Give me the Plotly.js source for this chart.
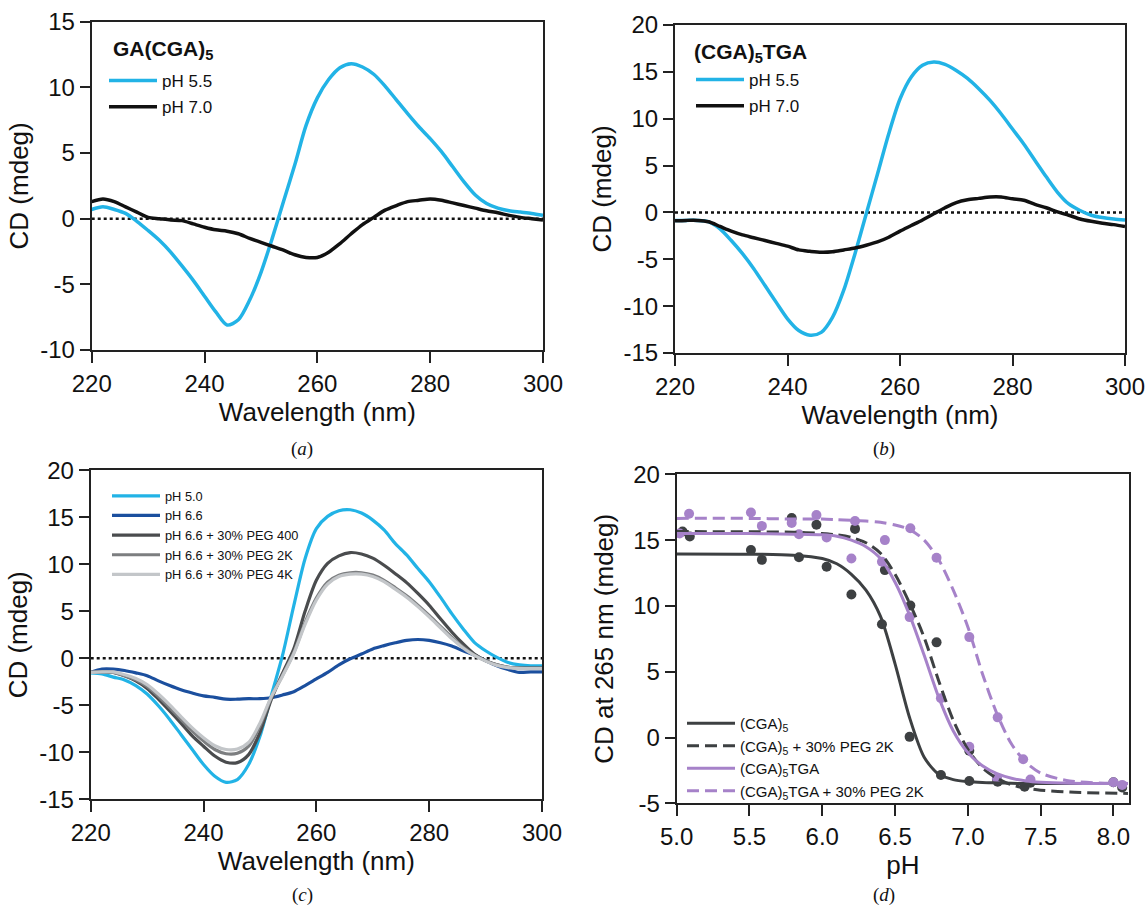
<!DOCTYPE html>
<html><head><meta charset="utf-8">
<script src="https://cdn.plot.ly/plotly-3.0.1.min.js"></script>
<style>html,body{margin:0;padding:0;background:#fff}#chart{width:1147px;height:907px}</style>
</head><body><div id="chart"></div>
<script>
// ---------- data ----------
const wavelength = [220,222,224,226,228,230,232,234,236,238,240,242,244,246,248,250,252,254,256,258,260,262,264,266,268,270,272,274,276,278,280,282,284,286,288,290,292,294,296,298,300];

// (a) GA(CGA)5
const aPH55 = [0.7,0.9,0.7,0.4,-0.2,-0.9,-1.65,-2.55,-3.6,-4.7,-5.9,-7.1,-8.1,-7.7,-6.2,-4.1,-1.5,1.3,4.1,7.1,9.2,10.6,11.5,11.8,11.55,11.0,10.1,9.05,8.0,7.0,6.1,5.1,3.95,2.8,1.8,1.15,0.8,0.6,0.5,0.4,0.25];
const aPH70 = [1.3,1.5,1.3,0.9,0.5,0.1,0.0,-0.1,-0.15,-0.4,-0.65,-0.85,-0.95,-1.15,-1.5,-1.8,-2.1,-2.4,-2.75,-2.95,-2.95,-2.55,-1.9,-1.15,-0.45,0.1,0.65,1.0,1.3,1.4,1.5,1.4,1.2,1.0,0.8,0.6,0.45,0.25,0.1,0.0,-0.1];

// (b) (CGA)5TGA
const bPH55 = [-0.85,-0.85,-0.85,-1.0,-1.75,-3.0,-4.4,-6.0,-7.8,-9.6,-11.35,-12.6,-13.1,-12.8,-11.2,-8.3,-4.4,-0.15,4.1,8.4,12.1,14.45,15.7,16.05,15.8,15.15,14.3,13.2,11.95,10.5,8.9,7.3,5.55,3.8,2.15,0.9,0.2,-0.3,-0.55,-0.7,-0.8];
const bPH70 = [-0.9,-0.85,-0.85,-1.0,-1.5,-2.0,-2.4,-2.7,-3.0,-3.3,-3.6,-4.0,-4.15,-4.25,-4.2,-4.0,-3.8,-3.5,-3.15,-2.65,-2.0,-1.4,-0.8,-0.15,0.5,1.05,1.35,1.5,1.65,1.65,1.45,1.3,0.85,0.5,0.05,-0.3,-0.7,-0.95,-1.15,-1.3,-1.5];

// (c) PEG series
const cPH50 = [-1.55,-1.65,-2.0,-2.3,-2.9,-3.8,-5.05,-6.5,-8.1,-9.7,-11.3,-12.55,-13.2,-12.9,-11.3,-8.3,-4.0,0.3,5.6,10.6,13.8,15.1,15.7,15.8,15.45,14.7,13.65,12.2,11.0,9.55,8.15,6.5,4.75,3.15,1.7,0.8,0.1,-0.45,-0.7,-0.8,-0.8];
const cPH66 = [-1.5,-1.15,-1.15,-1.3,-1.55,-1.85,-2.4,-2.9,-3.35,-3.7,-4.0,-4.15,-4.35,-4.35,-4.3,-4.3,-4.2,-3.9,-3.55,-2.9,-2.2,-1.5,-0.7,-0.05,0.45,1.0,1.35,1.65,1.9,2.0,1.9,1.65,1.3,0.8,0.35,-0.25,-0.8,-1.2,-1.5,-1.45,-1.45];
const cPEG400 = [-1.5,-1.45,-1.5,-1.85,-2.4,-3.2,-4.35,-5.6,-6.9,-8.25,-9.35,-10.4,-11.05,-11.1,-10.25,-7.9,-4.4,-1.6,1.0,5.0,8.3,10.1,10.9,11.25,11.1,10.65,9.9,9.0,8.05,6.9,5.65,4.2,2.8,1.55,0.45,-0.25,-0.7,-0.95,-1.05,-1.05,-1.05];
const cPEG2K = [-1.5,-1.45,-1.5,-1.85,-2.3,-3.0,-4.05,-5.25,-6.5,-7.75,-8.8,-9.7,-10.15,-10.1,-9.35,-7.2,-4.2,-1.8,0.6,3.8,6.4,8.1,8.85,9.1,9.1,8.85,8.3,7.5,6.65,5.65,4.55,3.4,2.25,1.2,0.35,-0.25,-0.7,-0.95,-1.05,-1.05,-1.05];
const cPEG4K = [-1.5,-1.45,-1.45,-1.75,-2.15,-2.8,-3.8,-4.95,-6.2,-7.4,-8.45,-9.3,-9.7,-9.65,-8.95,-6.9,-4.1,-1.9,0.5,3.6,6.2,7.9,8.7,8.95,8.95,8.7,8.15,7.35,6.5,5.5,4.4,3.25,2.1,1.1,0.3,-0.3,-0.75,-1.0,-1.1,-1.1,-1.1];

// (d) CD at 265 nm vs pH
const dCGA5_pH  = [5.09,5.51,5.585,5.84,6.03,6.20,6.41,6.60,6.815,7.01,7.205,7.39,8.0];
const dCGA5_cd  = [15.27,14.25,13.5,13.7,12.98,10.87,8.6,0.05,-2.85,-3.3,-3.36,-3.74,-3.4];
const dCGA5P_pH = [5.04,5.79,5.96,6.225,6.43,6.605,6.785,7.01,7.2,7.43,8.06];
const dCGA5P_cd = [15.65,16.67,16.16,15.85,12.72,10.03,7.23,-1.0,-3.2,-3.43,-3.8];
const dTGA_pH   = [5.02,5.585,5.84,6.03,6.20,6.41,6.60,6.815,7.01,7.2,7.43,8.06];
const dTGA_cd   = [15.5,16.08,15.45,15.2,13.6,13.35,9.15,2.98,-0.7,-3.1,-3.2,-3.6];
const dTGAP_pH  = [5.085,5.51,5.79,5.96,6.225,6.43,6.605,6.785,7.01,7.205,7.38,8.0];
const dTGAP_cd  = [17.0,17.1,16.3,16.9,16.45,15.0,15.9,13.66,7.63,1.53,-1.65,-3.4];

const fitPH      = [5.0,5.5,5.8,6.0,6.1,6.2,6.3,6.4,6.5,6.6,6.7,6.8,6.9,7.0,7.1,7.2,7.3,7.4,7.5,7.7,8.1];
const fitCGA5    = [13.95,13.93,13.85,13.6,13.2,12.4,11.2,9.2,5.6,1.5,-1.5,-2.8,-3.2,-3.35,-3.42,-3.45,-3.48,-3.5,-3.5,-3.5,-3.5];
const fitCGA5P   = [15.65,15.63,15.6,15.5,15.4,15.2,14.8,14.0,12.4,10.2,7.6,4.3,1.3,-0.9,-2.3,-3.1,-3.6,-3.85,-4.0,-4.15,-4.25];
const fitTGA     = [15.5,15.5,15.45,15.4,15.3,15.0,14.5,13.6,11.8,9.3,6.25,3.05,0.5,-1.15,-2.15,-2.75,-3.1,-3.3,-3.4,-3.48,-3.5];
const fitTGAP    = [16.65,16.65,16.6,16.6,16.55,16.5,16.45,16.35,16.15,15.8,15.0,13.5,11.2,8.4,4.85,1.8,-0.5,-1.9,-2.7,-3.3,-3.5];

// tick labels
const wlTicks = [220,240,260,280,300];
const aYTicks = [-10,-5,0,5,10,15];
const bYTicks = [-15,-10,-5,0,5,10,15,20];
const dXTicks = [5.0,5.5,6.0,6.5,7.0,7.5,8.0];
const dYTicks = [-5,0,5,10,15,20];
const labF = v => v.toFixed(1);

// ---------- styles ----------
const CYAN = '#22b3e6', BLACK = '#111111', BLUE = '#1b4f9e';
const G400 = '#4a4c4e', G2K = '#7c7e80', G4K = '#c3c6c9';
const DGREY = '#3d4042', PURPLE = '#a682c9';
const FONT = 'Liberation Sans, Arial, Helvetica, sans-serif';

function line(x, y, color, name, xa, ya, leg, w, dash) {
  return {type:'scatter', mode:'lines', x:x, y:y, name:name, xaxis:xa, yaxis:ya,
    legend:leg, legendgroup:name+xa, showlegend:true,
    line:{color:color, width:w||3.5, shape:'spline', smoothing:0.8, dash:dash||'solid'}, hoverinfo:'skip'};
}
function pts(x, y, color, xa, ya) {
  return {type:'scatter', mode:'markers', x:x, y:y, xaxis:xa, yaxis:ya, showlegend:false,
    marker:{color:color, size:10}, hoverinfo:'skip'};
}

const traces = [
  line(wavelength, aPH55, CYAN, 'pH 5.5', 'x', 'y', 'legend'),
  line(wavelength, aPH70, BLACK, 'pH 7.0', 'x', 'y', 'legend'),
  line(wavelength, bPH55, CYAN, 'pH 5.5', 'x2', 'y2', 'legend2'),
  line(wavelength, bPH70, BLACK, 'pH 7.0', 'x2', 'y2', 'legend2'),
  line(wavelength, cPH50, CYAN, 'pH 5.0', 'x3', 'y3', 'legend3', 3.2),
  line(wavelength, cPH66, BLUE, 'pH 6.6', 'x3', 'y3', 'legend3', 3.2),
  line(wavelength, cPEG400, G400, 'pH 6.6 + 30% PEG 400', 'x3', 'y3', 'legend3', 3.2),
  line(wavelength, cPEG2K, G2K, 'pH 6.6 + 30% PEG 2K', 'x3', 'y3', 'legend3', 3.2),
  line(wavelength, cPEG4K, G4K, 'pH 6.6 + 30% PEG 4K', 'x3', 'y3', 'legend3', 3.2),
  pts(dCGA5_pH, dCGA5_cd, DGREY, 'x4', 'y4'),
  pts(dCGA5P_pH, dCGA5P_cd, DGREY, 'x4', 'y4'),
  pts(dTGA_pH, dTGA_cd, PURPLE, 'x4', 'y4'),
  pts(dTGAP_pH, dTGAP_cd, PURPLE, 'x4', 'y4'),
  line(fitPH, fitCGA5, DGREY, '(CGA)<sub>5</sub>', 'x4', 'y4', 'legend4', 3),
  line(fitPH, fitCGA5P, DGREY, '(CGA)<sub>5</sub> + 30% PEG 2K', 'x4', 'y4', 'legend4', 3, '12px,6px'),
  line(fitPH, fitTGA, PURPLE, '(CGA)<sub>5</sub>TGA', 'x4', 'y4', 'legend4', 3),
  line(fitPH, fitTGAP, PURPLE, '(CGA)<sub>5</sub>TGA + 30% PEG 2K', 'x4', 'y4', 'legend4', 3, '12px,6px'),
];

function xax(domain, anchor, range, tv, tt, title) {
  return {domain:domain, anchor:anchor, range:range, tickvals:tv, ticktext:tt,
    showgrid:false, zeroline:false, showline:true, mirror:true, linecolor:'#222', linewidth:2,
    ticks:'outside', ticklen:11, tickwidth:2, tickcolor:'#222',
    tickfont:{family:FONT, size:24, color:'#111'},
    title:{text:title, font:{family:FONT, size:26, color:'#111'}, standoff:6}};
}
function yax(domain, anchor, range, tv, title, so) {
  return {domain:domain, anchor:anchor, range:range, tickvals:tv, ticktext:tv.map(String),
    showgrid:false, zeroline:false, showline:true, mirror:true, linecolor:'#222', linewidth:2,
    ticks:'outside', ticklen:10, tickwidth:2, tickcolor:'#222',
    tickfont:{family:FONT, size:24, color:'#111'},
    title:{text:title, font:{family:FONT, size:26, color:'#111'}, standoff:so}};
}
const W = 1147, H = 907;
const px = v => v / W, py = v => 1 - v / H;

function legend(xp, yp, size, gap) {
  return {x:px(xp), y:py(yp), xanchor:'left', yanchor:'top', bgcolor:'rgba(0,0,0,0)',
    borderwidth:0, font:{family:FONT, size:size, color:'#111'}, tracegroupgap:gap, itemwidth:48};
}

const zero = (xr, yr) => ({type:'line', xref:xr+' domain', yref:yr, x0:0, x1:1, y0:0, y1:0,
  line:{color:'#111', width:2.5, dash:'dot'}, layer:'below'});

const anno = (text, x, y, size, family, xanchor) => ({text:text, x:px(x), y:py(y), xref:'paper', yref:'paper',
  showarrow:false, xanchor:xanchor||'center', yanchor:'middle', font:{family:family, size:size, color:'#111'}});
const SERIF = 'Liberation Serif, Times New Roman, serif';

const layout = {
  width:W, height:H, margin:{l:0,r:0,t:0,b:0}, paper_bgcolor:'#fff', plot_bgcolor:'#fff',
  font:{family:FONT, color:'#111'}, showlegend:true,
  xaxis:  xax([px(91.7), px(543)], 'y', [220,300], wlTicks, wlTicks.map(String), 'Wavelength (nm)'),
  yaxis:  yax([py(350), py(21.7)], 'x', [-10,15], aYTicks, 'CD (mdeg)', 4),
  xaxis2: xax([px(675), px(1125)], 'y2', [220,300], wlTicks, wlTicks.map(String), 'Wavelength (nm)'),
  yaxis2: yax([py(353), py(25)], 'x2', [-15,20], bYTicks, 'CD (mdeg)', 4),
  xaxis3: xax([px(90.7), px(542)], 'y3', [220,300], wlTicks, wlTicks.map(String), 'Wavelength (nm)'),
  yaxis3: yax([py(799.3), py(470.3)], 'x3', [-15,20], bYTicks, 'CD (mdeg)', 4),
  xaxis4: xax([px(676.7), px(1129)], 'y4', [5,8.107], dXTicks, dXTicks.map(labF), 'pH'),
  yaxis4: yax([py(803.3), py(474.3)], 'x4', [-5,20], dYTicks, 'CD at 265 nm (mdeg)', 12),
  legend:  legend(104, 63, 17, 1),
  legend2: legend(691, 62, 17, 1),
  legend3: legend(107, 481, 12.8, 0),
  legend4: legend(682, 707, 15, 0),
  shapes: [zero('x','y'), zero('x2','y2'), zero('x3','y3')],
  annotations: [
    anno('<b>GA(CGA)<sub>5</sub></b>', 110.7, 50, 21, FONT, 'left'),
    anno('<b>(CGA)<sub>5</sub>TGA</b>', 691.7, 53, 21, FONT, 'left'),
    anno('(<i>a</i>)', 302, 449, 19, SERIF),
    anno('(<i>b</i>)', 884, 449, 19, SERIF),
    anno('(<i>c</i>)', 302, 895, 19, SERIF),
    anno('(<i>d</i>)', 884, 895, 19, SERIF),
  ]
};

Plotly.newPlot('chart', traces, layout, {staticPlot:true, displayModeBar:false});
</script></body></html>
